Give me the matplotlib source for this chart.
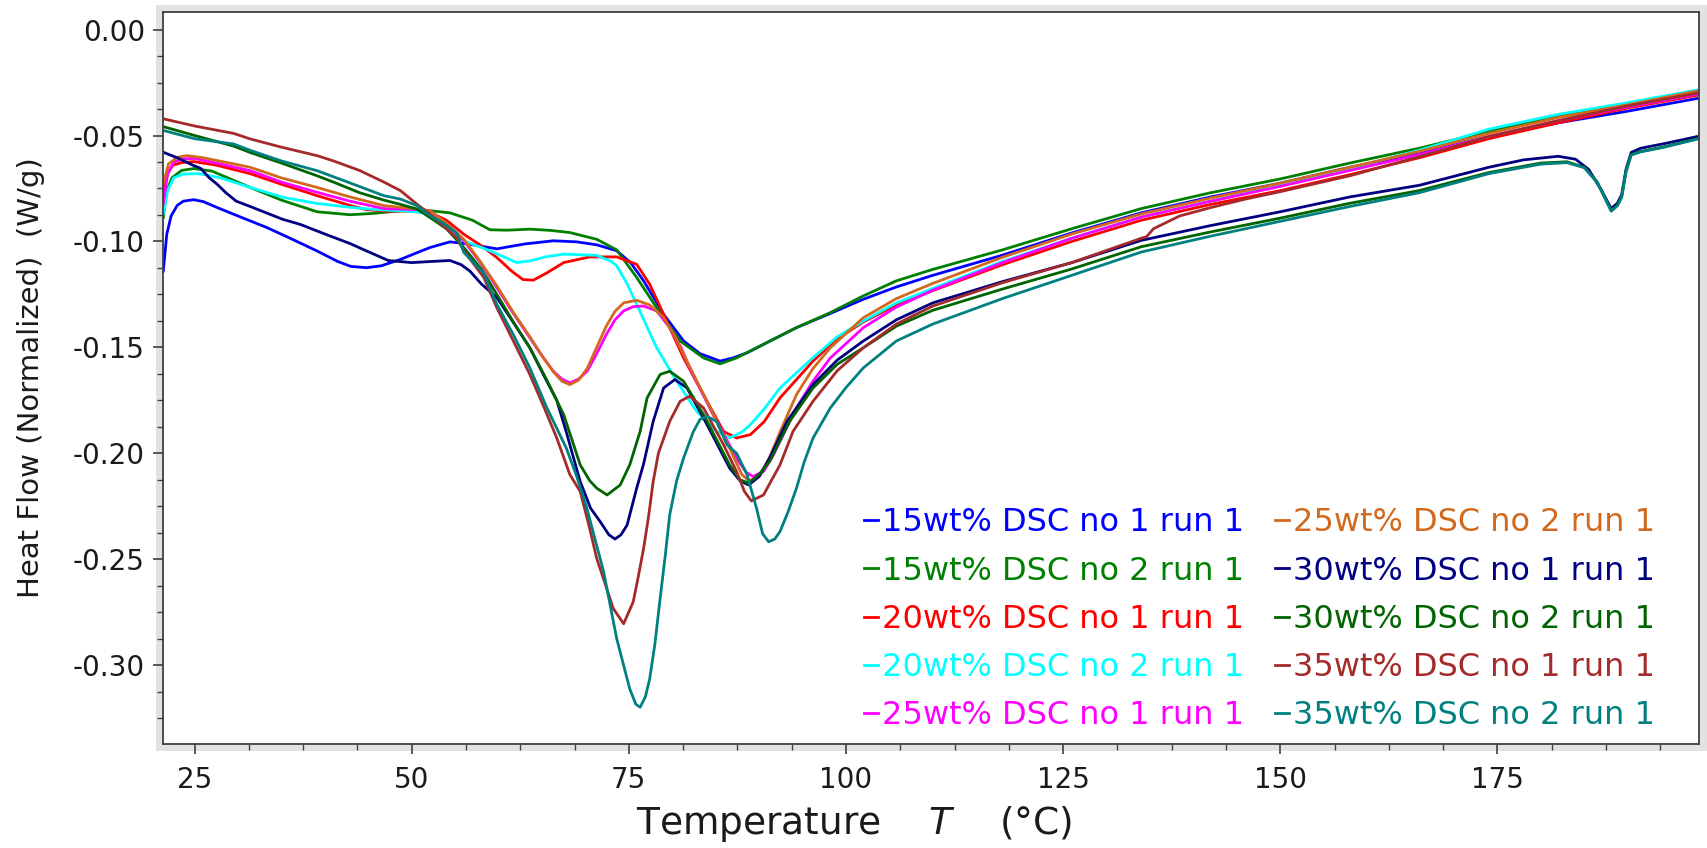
import numpy as np
import matplotlib
matplotlib.use("Agg")
import matplotlib.pyplot as plt
from matplotlib.patches import Rectangle
from matplotlib.ticker import MultipleLocator

plt.rcParams['font.family'] = ['DejaVu Sans']
plt.rcParams['axes.unicode_minus'] = False

t_15_1 = [21.4, 21.8, 22.3, 23.0, 23.7, 24.9, 26.0, 27.6, 30.0, 33.3, 36.0, 39.1, 41.5, 43.0, 44.8, 46.5, 48.7, 50.5,
          52.1, 54.4, 56.5, 59.8, 63.0, 66.3, 69.0, 71.3, 73.6, 75.2, 76.7, 79.0, 81.3, 83.2, 85.5, 87.0, 88.6, 91.5,
          94.3, 98.2, 102.0, 105.8, 110, 118, 126, 134, 142, 150, 158, 166, 174, 182, 190, 198]
hf_15_1 = [-0.114, -0.0966, -0.0880, -0.0830, -0.0810, -0.0803, -0.0812, -0.0840, -0.0880, -0.0934, -0.0985, -0.1045,
           -0.1095, -0.1118, -0.1124, -0.1115, -0.1085, -0.1055, -0.1029, -0.1002, -0.1012, -0.1035, -0.1012, -0.0997,
           -0.1002, -0.1016, -0.1044, -0.1100, -0.1186, -0.1344, -0.1470, -0.1530, -0.1565, -0.1550, -0.1526, -0.1465,
           -0.1407, -0.1340, -0.1273, -0.1215, -0.1160, -0.1065, -0.0960, -0.0865, -0.0790, -0.0725, -0.0650, -0.0585,
           -0.0505, -0.0440, -0.0385, -0.0325]

t_15_2 = [21.4, 21.8, 22.4, 23.5, 24.9, 27.0, 31.4, 35.0, 39.1, 42.9, 45.5, 48.7, 52.1, 54.4, 57.0, 59.0, 61.0, 63.6,
          66.0, 68.2, 71.3, 73.6, 75.9, 78.2, 80.9, 83.6, 85.5, 87.4, 90.5, 94.3, 98.2, 102.0, 105.8, 110, 118, 126,
          134, 142, 150, 158, 166, 174, 182, 190, 198]
hf_15_2 = [-0.0887, -0.0760, -0.0700, -0.0665, -0.0656, -0.0668, -0.0745, -0.0805, -0.0860, -0.0874, -0.0868, -0.0855,
           -0.0855, -0.0865, -0.0900, -0.0945, -0.0947, -0.0942, -0.0948, -0.0958, -0.0990, -0.1040, -0.1170, -0.1313,
           -0.1470, -0.1550, -0.1578, -0.1550, -0.1486, -0.1407, -0.1336, -0.1257, -0.1186, -0.1132, -0.1040, -0.0940,
           -0.0845, -0.0770, -0.0705, -0.0630, -0.0560, -0.0480, -0.0405, -0.0350, -0.0295]

t_20_1 = [21.4, 21.9, 22.5, 23.5, 24.9, 27.5, 31.4, 35.0, 39.1, 42.9, 44.8, 47.0, 49.1, 52.1, 54.0, 56.0, 58.0, 59.8,
          61.5, 62.8, 64.0, 65.5, 67.5, 70.5, 73.6, 75.9, 77.4, 79.0, 81.3, 84.0, 85.9, 87.4, 89.0, 90.6, 92.4, 96.2,
          99.0, 102.0, 105.8, 110, 118, 126, 134, 142, 150, 158, 166, 174, 182, 190, 198]
hf_20_1 = [-0.0776, -0.0680, -0.0640, -0.0628, -0.0623, -0.0640, -0.0680, -0.0730, -0.0784, -0.0830, -0.0850, -0.0857,
           -0.0857, -0.0863, -0.0900, -0.0966, -0.1020, -0.1076, -0.1140, -0.1180, -0.1183, -0.1150, -0.1100, -0.1073,
           -0.1073, -0.1108, -0.1202, -0.1344, -0.1550, -0.1755, -0.1897, -0.1928, -0.1912, -0.1850, -0.1739, -0.1565,
           -0.1460, -0.1380, -0.1300, -0.1232, -0.1110, -0.1000, -0.0900, -0.0825, -0.0760, -0.0685, -0.0605, -0.0515,
           -0.0440, -0.0370, -0.0310]

t_20_2 = [21.4, 21.9, 22.6, 23.7, 25.5, 28.0, 31.4, 35.2, 39.0, 42.9, 46.0, 50.6, 52.1, 54.0, 56.0, 59.0, 62.1, 63.6,
          65.5, 67.5, 71.3, 73.0, 73.6, 74.8, 75.9, 78.2, 80.5, 82.8, 85.1, 86.6, 88.0, 89.0, 90.6, 92.4, 96.2, 99.0,
          102.0, 105.8, 110, 118, 126, 134, 142, 150, 158, 166, 174, 182, 190, 198]
hf_20_2 = [-0.0871, -0.0760, -0.0700, -0.0682, -0.0680, -0.0700, -0.0745, -0.0792, -0.0820, -0.0839, -0.0850, -0.0860,
           -0.0871, -0.0930, -0.0997, -0.1044, -0.1100, -0.1092, -0.1072, -0.1060, -0.1066, -0.1095, -0.1115, -0.1200,
           -0.1297, -0.1502, -0.1660, -0.1802, -0.1897, -0.1928, -0.1900, -0.1865, -0.1790, -0.1692, -0.1549, -0.1450,
           -0.1376, -0.1290, -0.1222, -0.1095, -0.0985, -0.0885, -0.0810, -0.0735, -0.0655, -0.0570, -0.0470, -0.0400,
           -0.0345, -0.0285]

t_25_1 = [21.4, 21.9, 22.6, 23.7, 25.0, 27.5, 31.4, 35.0, 39.1, 42.9, 46.8, 50.6, 52.1, 54.0, 56.0, 57.9, 59.8, 61.7,
          63.6, 65.0, 66.3, 67.3, 68.2, 69.2, 70.2, 71.3, 72.4, 73.4, 74.4, 75.5, 76.7, 78.2, 79.7, 81.0, 82.0, 84.7,
          87.4, 88.5, 89.3, 90.5, 91.5, 92.4, 94.3, 96.2, 98.2, 102.0, 105.8, 110, 118, 126, 134, 142, 150, 158, 166,
          174, 182, 190, 198]
hf_25_1 = [-0.0820, -0.0680, -0.0625, -0.0610, -0.0608, -0.0630, -0.0666, -0.0720, -0.0768, -0.0810, -0.0845, -0.0850,
           -0.0855, -0.0920, -0.0997, -0.1100, -0.1218, -0.1340, -0.1455, -0.1540, -0.1613, -0.1650, -0.1668, -0.1650,
           -0.1613, -0.1530, -0.1440, -0.1370, -0.1328, -0.1308, -0.1305, -0.1328, -0.1407, -0.1500, -0.1597, -0.1818,
           -0.2023, -0.2090, -0.2110, -0.2086, -0.2020, -0.1944, -0.1786, -0.1660, -0.1550, -0.1407, -0.1310, -0.1230,
           -0.1100, -0.0985, -0.0885, -0.0810, -0.0740, -0.0665, -0.0590, -0.0505, -0.0430, -0.0365, -0.0305]

t_25_2 = [21.4, 22.0, 23.0, 24.1, 26.0, 29.5, 31.4, 35.0, 39.1, 42.9, 46.8, 50.6, 52.1, 54.0, 56.0, 57.9, 59.8, 61.7,
          63.6, 65.0, 66.3, 67.3, 68.2, 69.2, 70.2, 71.3, 72.4, 73.4, 74.4, 75.9, 77.4, 79.0, 80.2, 81.3, 84.0, 86.6,
          88.0, 88.8, 90.0, 91.2, 92.4, 94.3, 96.2, 98.2, 102.0, 105.8, 110, 118, 126, 134, 142, 150, 158, 166, 174,
          182, 190, 198]
hf_25_2 = [-0.0729, -0.0634, -0.0603, -0.0595, -0.0605, -0.0634, -0.0650, -0.0700, -0.0745, -0.0790, -0.0831, -0.0847,
           -0.0855, -0.0915, -0.0990, -0.1095, -0.1210, -0.1335, -0.1450, -0.1540, -0.1615, -0.1660, -0.1676, -0.1655,
           -0.1600, -0.1500, -0.1400, -0.1330, -0.1290, -0.1278, -0.1300, -0.1360, -0.1440, -0.1534, -0.1755, -0.1976,
           -0.2100, -0.2130, -0.2110, -0.2020, -0.1900, -0.1723, -0.1600, -0.1502, -0.1360, -0.1270, -0.1198, -0.1075,
           -0.0965, -0.0870, -0.0795, -0.0725, -0.0650, -0.0575, -0.0490, -0.0415, -0.0355, -0.0290]

t_30_1 = [21.4, 23.0, 24.8, 25.7, 26.7, 27.6, 28.6, 29.8, 31.4, 35.1, 37.2, 40.0, 42.9, 44.8, 47.3, 50.0, 52.1, 54.4,
          55.7, 56.7, 58.0, 59.8, 61.5, 63.6, 65.3, 66.7, 67.8, 69.4, 70.6, 71.7, 72.7, 73.4, 74.1, 74.8, 75.9, 76.7,
          77.8, 79.0, 80.3, 81.7, 84.0, 86.6, 87.8, 88.8, 90.0, 91.2, 93.2, 96.2, 99.0, 102.0, 105.8, 110, 118, 126,
          134, 142, 150, 158, 166, 174, 178, 182, 184, 185.5, 187, 188.1, 188.8, 189.3, 189.8, 190.4, 191.5, 194, 198]
hf_30_1 = [-0.0579, -0.0605, -0.0640, -0.0655, -0.0700, -0.0730, -0.0770, -0.0810, -0.0835, -0.0895, -0.0920, -0.0965,
           -0.1010, -0.1045, -0.1090, -0.1100, -0.1095, -0.1090, -0.1110, -0.1140, -0.1200, -0.1265, -0.1370, -0.1502,
           -0.1640, -0.1750, -0.1900, -0.2134, -0.2260, -0.2323, -0.2385, -0.2405, -0.2385, -0.2339, -0.2165, -0.2050,
           -0.1850, -0.1692, -0.1652, -0.1692, -0.1865, -0.2070, -0.2130, -0.2150, -0.2110, -0.2023, -0.1850, -0.1676,
           -0.1560, -0.1470, -0.1370, -0.1290, -0.1190, -0.1100, -0.0995, -0.0925, -0.0860, -0.0790, -0.0735, -0.0650,
           -0.0615, -0.0598, -0.0612, -0.0660, -0.0760, -0.0845, -0.0820, -0.0780, -0.0660, -0.0580, -0.0560, -0.0540,
           -0.0505]

t_30_2 = [21.4, 25.0, 29.5, 31.4, 35.0, 39.1, 41.0, 44.0, 46.8, 48.7, 50.6, 52.1, 54.0, 56.0, 58.0, 59.8, 61.7, 63.6,
          65.5, 67.5, 69.4, 70.5, 71.3, 72.5, 74.0, 75.1, 76.3, 77.1, 78.6, 79.7, 81.3, 83.6, 86.6, 87.8, 88.8, 90.0,
          91.2, 93.5, 96.2, 99.0, 102.0, 105.8, 110, 118, 126, 134, 142, 150, 158, 166, 174, 180, 183, 185, 186.5,
          188.1, 188.8, 189.3, 189.8, 190.4, 191.5, 194, 198]
hf_30_2 = [-0.0458, -0.0500, -0.0550, -0.0580, -0.0630, -0.0690, -0.0720, -0.0770, -0.0805, -0.0825, -0.0847, -0.0887,
           -0.0940, -0.1029, -0.1130, -0.1250, -0.1380, -0.1502, -0.1650, -0.1818, -0.2055, -0.2130, -0.2165, -0.2197,
           -0.2150, -0.2055, -0.1897, -0.1739, -0.1628, -0.1613, -0.1660, -0.1818, -0.2055, -0.2125, -0.2142, -0.2100,
           -0.2039, -0.1850, -0.1692, -0.1580, -0.1502, -0.1400, -0.1325, -0.1225, -0.1130, -0.1025, -0.0955, -0.0890,
           -0.0820, -0.0760, -0.0675, -0.0630, -0.0624, -0.0650, -0.0720, -0.0855, -0.0830, -0.0790, -0.0670, -0.0590,
           -0.0575, -0.0555, -0.0515]

t_35_1 = [21.4, 25.0, 29.5, 31.4, 35.0, 39.1, 41.0, 44.0, 46.8, 48.7, 50.6, 52.1, 53.5, 55.2, 56.0, 58.3, 59.8, 61.7,
          63.6, 65.2, 66.7, 68.2, 69.4, 70.4, 71.3, 72.3, 73.2, 74.4, 75.5, 76.1, 76.7, 77.3, 77.8, 78.4, 79.7, 80.9,
          82.0, 83.6, 85.9, 87.4, 88.3, 89.1, 90.5, 92.4, 93.9, 96.2, 99.0, 102.0, 105.8, 110, 118, 126, 134, 134.6,
          135.4, 138.4, 142, 146, 150, 158, 166, 174, 182, 190, 198]
hf_35_1 = [-0.0421, -0.0455, -0.0490, -0.0516, -0.0555, -0.0595, -0.0620, -0.0665, -0.0720, -0.0760, -0.0824, -0.0871,
           -0.0920, -0.0985, -0.1044, -0.1170, -0.1313, -0.1470, -0.1628, -0.1780, -0.1928, -0.2100, -0.2181, -0.2340,
           -0.2497, -0.2620, -0.2733, -0.2805, -0.2702, -0.2580, -0.2449, -0.2290, -0.2134, -0.2000, -0.1850, -0.1755,
           -0.1731, -0.1786, -0.1960, -0.2086, -0.2180, -0.2225, -0.2197, -0.2055, -0.1897, -0.1755, -0.1610, -0.1502,
           -0.1390, -0.1305, -0.1195, -0.1100, -0.0985, -0.0978, -0.0940, -0.0880, -0.0840, -0.0800, -0.0765, -0.0690,
           -0.0600, -0.0505, -0.0430, -0.0360, -0.0300]

t_35_2 = [21.4, 25.0, 29.5, 31.4, 35.0, 39.1, 42.0, 46.8, 48.7, 50.6, 52.1, 53.5, 55.2, 56.0, 58.3, 59.8, 61.7, 63.6,
          65.5, 67.8, 69.0, 70.1, 72.1, 73.6, 75.1, 75.8, 76.3, 76.9, 77.4, 78.0, 78.6, 79.2, 79.7, 80.5, 81.3, 82.4,
          83.2, 84.0, 85.1, 86.3, 87.4, 88.6, 89.7, 90.4, 91.1, 91.8, 92.4, 93.3, 94.3, 95.2, 96.2, 98.2, 100.0, 102.0,
          105.8, 110, 118, 126, 134, 142, 150, 158, 166, 174, 180, 183, 185, 186.5, 188.1, 188.8, 189.3, 189.8, 190.4,
          191.5, 194, 198]
hf_35_2 = [-0.0476, -0.0515, -0.0540, -0.0570, -0.0620, -0.0666, -0.0710, -0.0784, -0.0800, -0.0831, -0.0879, -0.0910,
           -0.0960, -0.1052, -0.1150, -0.1297, -0.1440, -0.1597, -0.1780, -0.1976, -0.2110, -0.2250, -0.2560, -0.2875,
           -0.3112, -0.3185, -0.3199, -0.3150, -0.3065, -0.2900, -0.2686, -0.2480, -0.2292, -0.2130, -0.2023, -0.1900,
           -0.1840, -0.1826, -0.1850, -0.1960, -0.2000, -0.2100, -0.2260, -0.2380, -0.2418, -0.2405, -0.2370, -0.2280,
           -0.2165, -0.2040, -0.1929, -0.1786, -0.1690, -0.1597, -0.1470, -0.1390, -0.1270, -0.1160, -0.1050, -0.0975,
           -0.0905, -0.0835, -0.0770, -0.0680, -0.0635, -0.0628, -0.0652, -0.0722, -0.0857, -0.0832, -0.0792, -0.0672,
           -0.0592, -0.0577, -0.0557, -0.0517]

labels = ['15wt% DSC no 1 run 1', '15wt% DSC no 2 run 1', '20wt% DSC no 1 run 1', '20wt% DSC no 2 run 1',
          '25wt% DSC no 1 run 1', '25wt% DSC no 2 run 1', '30wt% DSC no 1 run 1', '30wt% DSC no 2 run 1',
          '35wt% DSC no 1 run 1', '35wt% DSC no 2 run 1']
colors = ['#0000ff', '#008000', '#ff0000', '#00ffff', '#ff00ff', '#d2691e', '#000080', '#006400', '#a52a2a', '#008080']
temps = [t_15_1, t_15_2, t_20_1, t_20_2, t_25_1, t_25_2, t_30_1, t_30_2, t_35_1, t_35_2]
flows = [hf_15_1, hf_15_2, hf_20_1, hf_20_2, hf_25_1, hf_25_2, hf_30_1, hf_30_2, hf_35_1, hf_35_2]

fig = plt.figure(figsize=(17.08, 8.48), dpi=100)
ax = fig.add_axes([0.0954, 0.1226, 0.8993, 0.8632])

# grey bevel behind the plot box
fig.patches.append(Rectangle((156 / 1708, (848 - 751) / 848), 1551 / 1708, 746 / 848,
                             transform=fig.transFigure, facecolor='#e2e2e2', edgecolor='none', zorder=-1))
ax.set_facecolor('white')

for t, hf, c, lab in zip(temps, flows, colors, labels):
    ax.plot(t, hf, color=c, lw=2.0, label=lab)

ax.set_xlim(21.36, 198.2)
ax.set_ylim(-0.3373, 0.0083)
ax.xaxis.set_major_locator(MultipleLocator(25))
ax.xaxis.set_minor_locator(MultipleLocator(6.25))
ax.yaxis.set_major_locator(MultipleLocator(0.05))
ax.yaxis.set_minor_locator(MultipleLocator(0.0125))
ax.yaxis.set_major_formatter(matplotlib.ticker.FormatStrFormatter('%.2f'))

for s in ax.spines.values():
    s.set_color('#404040')
    s.set_linewidth(1.3)
ax.tick_params(which='both', direction='out', top=False, right=False, colors='#404040',
               labelcolor='#1a1a1a', labelsize=20)
ax.tick_params(which='major', length=7, width=1.2, pad=6)
ax.tick_params(which='minor', length=4, width=1.0)
ax.tick_params(axis='x', which='major', pad=9)

ax.set_ylabel('Heat Flow (Normalized)  (W/g)', fontsize=21, color='#1a1a1a', labelpad=20)
ax.set_xlabel('Temperature    $T$    (°C)', fontsize=27, color='#1a1a1a')
ax.xaxis.set_label_coords((854 - 163) / 1536, -0.082)

leg = ax.legend(ncol=2, loc='lower right', bbox_to_anchor=(0.99, -0.022), frameon=False, fontsize=23,
                handlelength=0.45, handletextpad=0.12, columnspacing=0.95, labelspacing=0.54,
                labelcolor='linecolor')
for h in leg.get_lines():
    h.set_linewidth(2.0)

fig.savefig('out.png', dpi=100)
